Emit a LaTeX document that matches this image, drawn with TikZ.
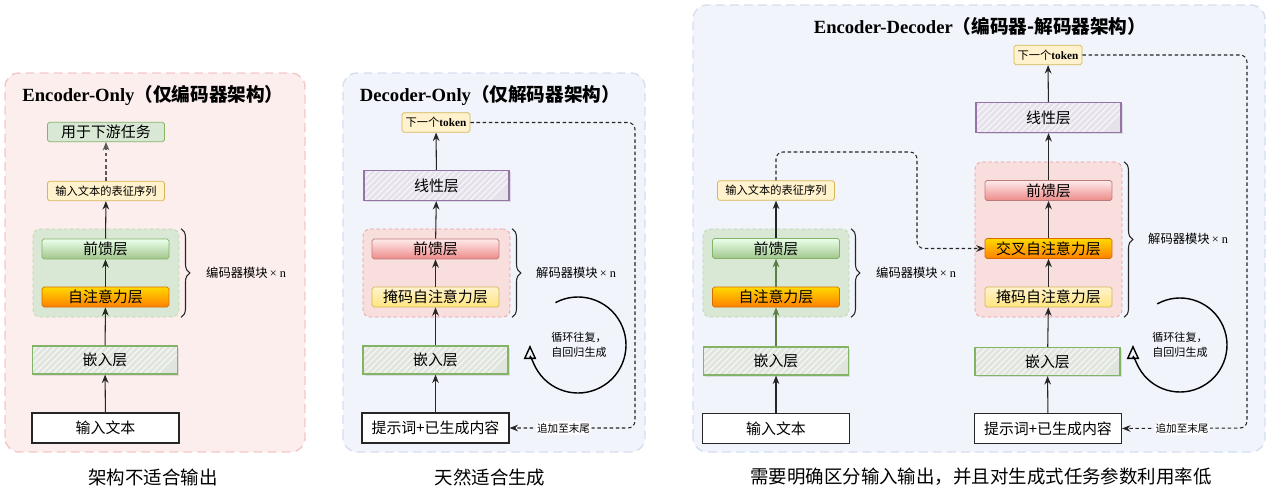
\documentclass[tikz,border=0pt]{standalone}
\usepackage{fontspec}
\setmainfont{Noto Sans CJK SC}
\newfontfamily\latn{Liberation Serif}
\usepackage{tikz}
\usetikzlibrary{positioning, arrows.meta, decorations.pathreplacing, shadows}

\definecolor{PinkBg}{HTML}{FDEEEE}
\definecolor{PinkEdge}{HTML}{F4C7C7}
\definecolor{BlueBg}{HTML}{F1F4FB}
\definecolor{BlueEdge}{HTML}{D6DFEF}
\definecolor{GreenBlock}{HTML}{D9E8D5}
\definecolor{GreenEdge}{HTML}{82B366}
\definecolor{RedBlock}{HTML}{F9DEDE}
\definecolor{RedEdge}{HTML}{EA9A98}
\definecolor{NoteFill}{HTML}{FFF2CC}
\definecolor{NoteEdge}{HTML}{D6B656}
\definecolor{EmbFill}{HTML}{E0E5DE}
\definecolor{LinFill}{HTML}{E6E2EC}
\definecolor{LinEdge}{HTML}{9673A6}

\tikzset{
  panelpink/.style={fill=PinkBg, draw=PinkEdge, dash pattern=on 5pt off 3pt, line width=0.8pt, rounded corners=8pt},
  panelblue/.style={fill=BlueBg, draw=BlueEdge, dash pattern=on 5pt off 3pt, line width=0.8pt, rounded corners=8pt},
  paneltitle/.style={font=\fontsize{10.6}{12}\selectfont\bfseries},
  caption/.style={font=\fontsize{10.5}{12}\selectfont},
  encblock/.style={fill=GreenBlock, draw=GreenEdge!55, dash pattern=on 2pt off 1.5pt, rounded corners=4pt, minimum width=2.92cm, minimum height=1.76cm},
  decblock/.style={fill=RedBlock, draw=RedEdge, dash pattern=on 2pt off 1.5pt, rounded corners=4pt, minimum width=2.94cm},
  layer/.style={rounded corners=1pt, minimum width=2.54cm, minimum height=0.4cm, inner sep=0pt, font=\fontsize{8.5}{10}\selectfont},
  ffngreen/.style={draw=GreenEdge, top color=green!8!white, bottom color=GreenEdge!75},
  ffnred/.style={draw=RedEdge!80!black, top color=red!8!white, bottom color=RedEdge!90!red},
  attnorange/.style={draw=orange!85!black, top color=yellow!70!orange, bottom color=orange},
  maskyellow/.style={draw=NoteEdge, top color=NoteFill, bottom color=yellow!60!orange!50},
  hatch/.style={path picture={
      \foreach \k in {0,...,26}
        \draw[white, opacity=0.7, line width=0.7pt]
          ([xshift=\k*3.5pt-20pt]path picture bounding box.south west) -- ++(0.8cm,0.8cm);}},
  embbox/.style={draw=GreenEdge, line width=0.7pt, fill=EmbFill, hatch,
    drop shadow={opacity=0.2, shadow xshift=1pt, shadow yshift=-1pt}, minimum width=2.9cm, minimum height=0.56cm, inner sep=0pt,
    font=\fontsize{8.5}{10}\selectfont},
  linbox/.style={embbox, draw=LinEdge, fill=LinFill, minimum height=0.6cm},
  inbox/.style={draw=black!85, fill=white, line width=0.7pt, minimum width=2.94cm, minimum height=0.6cm, inner sep=0pt,
    font=\fontsize{8.5}{10}\selectfont},
  notebox/.style={draw=NoteEdge, fill=NoteFill, rounded corners=1pt, minimum width=2.34cm, minimum height=0.39cm, inner sep=0pt,
    font=\fontsize{6.4}{8}\selectfont},
  tokenbox/.style={notebox, minimum width=1.36cm},
  outbox/.style={notebox, draw=GreenEdge, fill=GreenBlock, font=\fontsize{8.5}{10}\selectfont},
  flow/.style={->, draw=black!85, line width=0.6pt},
  fadedflow/.style={flow, draw=GreenEdge!70!black},
  feedback/.style={->, draw=black!85, line width=0.6pt, dash pattern=on 2pt off 1.5pt, rounded corners=4pt},
  feedlabel/.style={fill=white, inner sep=1pt, font=\fontsize{6}{7}\selectfont},
  brace/.style={decorate, decoration={brace, amplitude=5pt}, draw=black!85, line width=0.6pt},
  bracelabel/.style={anchor=west, font=\fontsize{7}{8}\selectfont},
  cyclearrow/.style={-{Triangle[open, length=8pt, width=7pt]}, line width=0.8pt},
  cyclelabel/.style={align=left, font=\fontsize{6.3}{8.5}\selectfont},
}

\begin{document}
\begin{tikzpicture}[x=0.02cm, y=0.02cm, >={Stealth[length=4.8pt, width=3.8pt]}]
  \useasboundingbox (0,0) rectangle (1269,488);
  % Panel backgrounds
  \draw[panelpink] (5,36) rectangle (305,415);
  \draw[panelblue] (343,36) rectangle (645,415);
  \draw[panelblue] (693,36) rectangle (1265,483);
  % Titles
  \node[paneltitle] (title1) at (153,393) {{\latn Encoder-Only}（仅编码器架构）};
  \node[paneltitle] (title2) at (490,393) {{\latn Decoder-Only}（仅解码器架构）};
  \node[paneltitle] (title3) at (980,462) {{\latn Encoder-Decoder}（编码器-解码器架构）};
  % Captions
  \node[caption] (cap1) at (153,11) {架构不适合输出};
  \node[caption] (cap2) at (490,11) {天然适合生成};
  \node[caption] (cap3) at (981,11) {需要明确区分输入输出，并且对生成式任务参数利用率低};

  % Encoder-only
  \node[encblock] (blk1) at (106,215) {};
  \node[outbox] (task1) at (106,356) {用于下游任务};
  \node[notebox] (rep1) at (106,297) {输入文本的表征序列};
  \node[layer, ffngreen] (ffn1) at (105.5,239) {前馈层};
  \node[layer, attnorange] (attn1) at (105.5,191) {自注意力层};
  \node[embbox] (emb1) at (105,128) {嵌入层};
  \node[inbox] (in1) at (105.5,60) {输入文本};
  \draw[flow] (in1) -- (emb1);
  \draw[flow] (emb1) -- (attn1);
  \draw[flow] (attn1) -- (ffn1);
  \draw[flow] (ffn1) -- (rep1);
  \draw[flow, draw=black!65, dash pattern=on 2pt off 1.5pt] (rep1) -- (task1);
  \draw[brace] ([xshift=1pt]blk1.north east) -- ([xshift=1pt]blk1.south east);
  \node[bracelabel] (stack1) at (200,215) {编码器模块\,{\latn × n}};

  % Decoder-only
  \node[decblock, minimum height=1.76cm] (blk2) at (436.5,215) {};
  \node[tokenbox] (next2) at (436,365.5) {下一个{\latn\bfseries token}};
  \node[linbox] (lin2) at (436.5,302.5) {线性层};
  \node[layer, ffnred] (ffn2) at (435.5,239) {前馈层};
  \node[layer, maskyellow] (mask2) at (435.5,191) {掩码自注意力层};
  \node[embbox] (emb2) at (435.5,128) {嵌入层};
  \node[inbox] (in2) at (435.5,60) {提示词+已生成内容};
  \draw[flow] (in2) -- (emb2);
  \draw[flow] (emb2) -- (mask2);
  \draw[flow] (mask2) -- (ffn2);
  \draw[flow] (ffn2) -- (lin2);
  \draw[flow] (lin2) -- (next2);
  \draw[brace] ([xshift=1pt]blk2.north east) -- ([xshift=1pt]blk2.south east);
  \node[bracelabel] (stack2) at (530,215) {解码器模块\,{\latn × n}};
  \coordinate (back2) at (635,60);
  \draw[feedback] (next2.east) -| (back2) -- (in2.east)
    node[feedlabel, pos=0.57] (append2) {追加至末尾};
  \draw[cyclearrow] (578,143) ++(118:48) arc[start angle=118, end angle=-180, radius=48];
  \node[cyclelabel] (cyc2) at (579,143) {循环往复，\\自回归生成};

  % Encoder-decoder: encoder side
  \node[encblock] (blk3) at (776,215) {};
  \node[notebox] (rep3) at (776,297.5) {输入文本的表征序列};
  \node[layer, ffngreen] (ffn3) at (776,239.5) {前馈层};
  \node[layer, attnorange] (attn3) at (776,191) {自注意力层};
  \node[embbox] (emb3) at (776,127) {嵌入层};
  \node[inbox] (in3) at (776,59.5) {输入文本};
  \draw[flow] (in3) -- (emb3);
  \draw[fadedflow] (emb3) -- (attn3);
  \draw[fadedflow] (attn3) -- (ffn3);
  \draw[flow] (ffn3) -- (rep3);
  \draw[brace] ([xshift=1pt]blk3.north east) -- ([xshift=1pt]blk3.south east);
  \node[bracelabel] (stack3) at (870,215) {编码器模块\,{\latn × n}};

  % Encoder-decoder: decoder side
  \node[decblock, minimum height=3.1cm] (blk4) at (1048.5,248.5) {};
  \node[tokenbox] (next4) at (1048,433) {下一个{\latn\bfseries token}};
  \node[linbox] (lin4) at (1048.5,370.5) {线性层};
  \node[layer, ffnred] (ffn4) at (1048.5,297.5) {前馈层};
  \node[layer, attnorange] (cross4) at (1048.5,239.5) {交叉自注意力层};
  \node[layer, maskyellow] (mask4) at (1048.5,191) {掩码自注意力层};
  \node[embbox] (emb4) at (1047.5,126.5) {嵌入层};
  \node[inbox] (in4) at (1048,59.5) {提示词+已生成内容};
  \draw[flow] (in4) -- (emb4);
  \draw[flow] (emb4) -- (mask4);
  \draw[flow] (mask4) -- (cross4);
  \draw[flow] (cross4) -- (ffn4);
  \draw[flow] (ffn4) -- (lin4);
  \draw[flow] (lin4) -- (next4);
  \draw[brace] ([xshift=1pt]blk4.north east) -- ([xshift=1pt]blk4.south east);
  \node[bracelabel] (stack4) at (1142,249) {解码器模块\,{\latn × n}};
  \coordinate (back4) at (1247,60);
  \draw[feedback] (next4.east) -| (back4) -- (in4.east)
    node[feedlabel, pos=0.52] (append4) {追加至末尾};
  \draw[cyclearrow] (1180,143) ++(119:47) arc[start angle=119, end angle=-180, radius=47];
  \node[cyclelabel] (cyc4) at (1180,143) {循环往复，\\自回归生成};

  % Cross connection
  \coordinate (up3) at (917,336);
  \draw[feedback] (rep3.north) |- (up3) |- (cross4.west);
\end{tikzpicture}
\end{document}
